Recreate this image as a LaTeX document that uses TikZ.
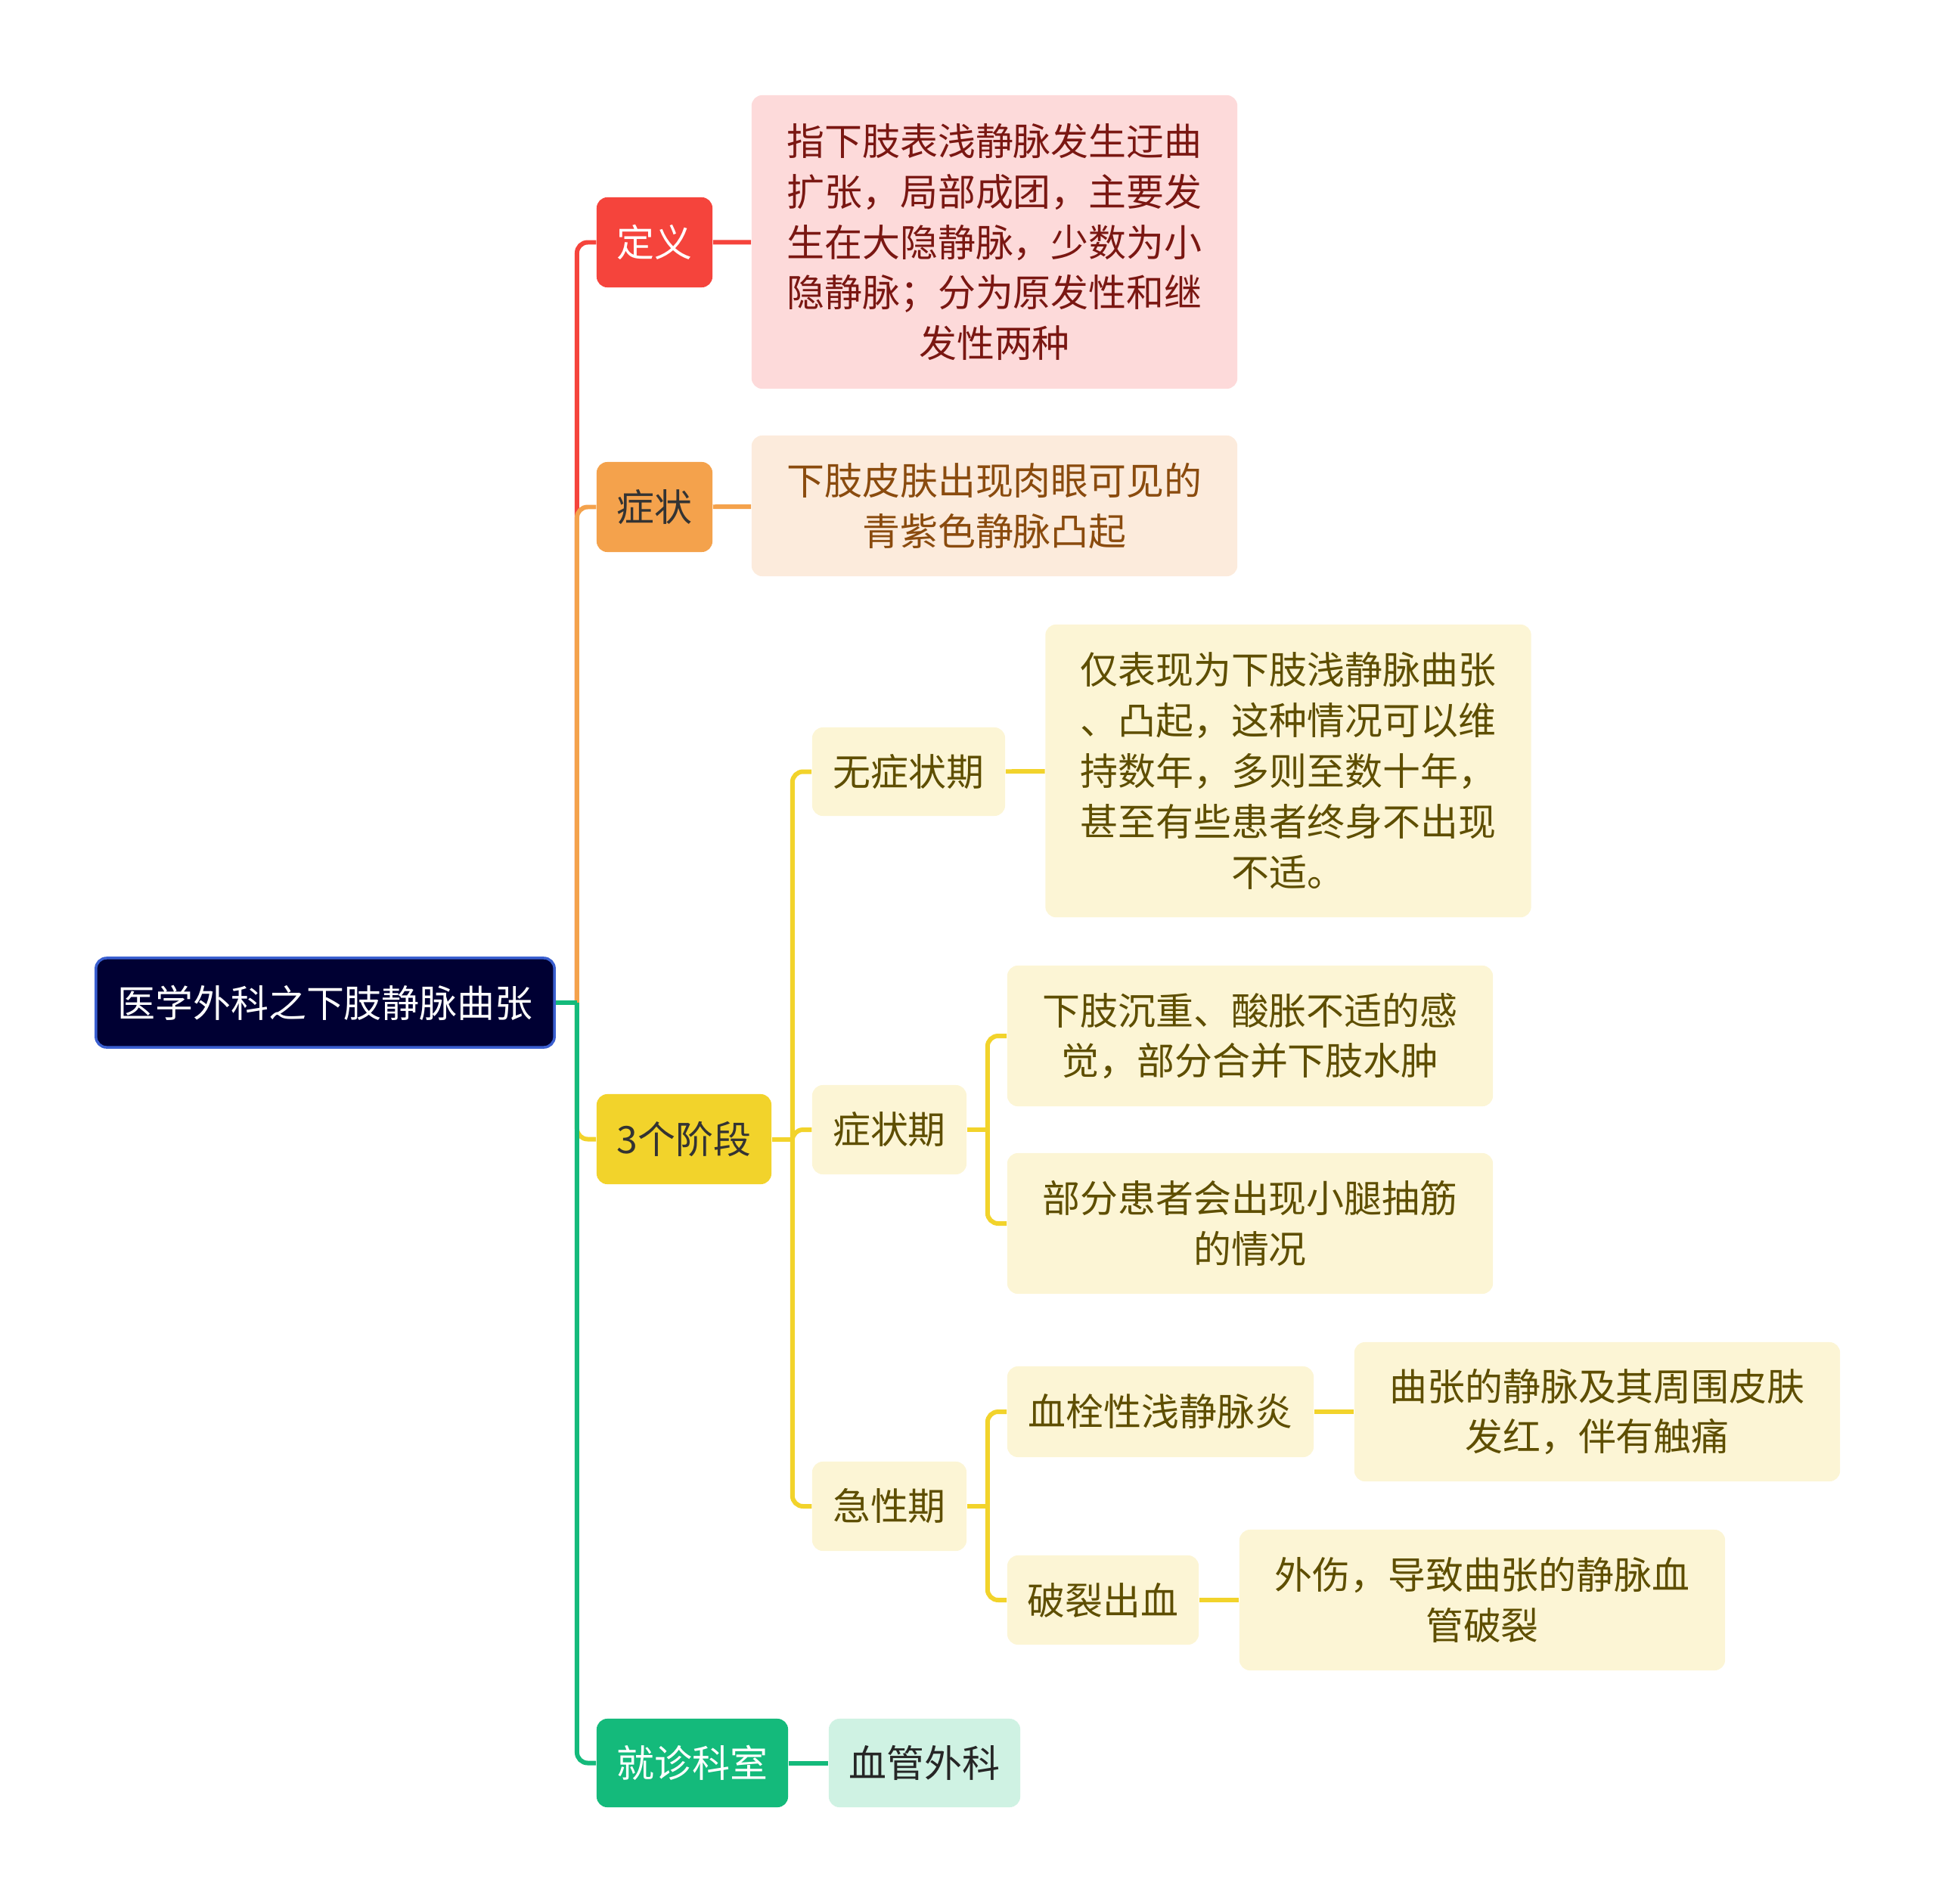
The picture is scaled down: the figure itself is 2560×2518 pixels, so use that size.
\documentclass[tikz,border=0pt]{standalone}
\usepackage{fontspec}
\newfontfamily\cjk{Noto Sans CJK SC}
\usetikzlibrary{positioning}
\definecolor{rootfill}{HTML}{000033}
\definecolor{rootline}{HTML}{3A5FD0}
\definecolor{mred}{HTML}{F5443C}
\definecolor{morange}{HTML}{F4A24C}
\definecolor{myellow}{HTML}{F2D32B}
\definecolor{mgreen}{HTML}{14BA7B}
\definecolor{lred}{HTML}{FDDADA}
\definecolor{lorange}{HTML}{FCEBDC}
\definecolor{lyellow}{HTML}{FCF5D5}
\definecolor{lgreen}{HTML}{CFF2E3}
\definecolor{tred}{HTML}{7A1712}
\definecolor{torange}{HTML}{8A4B0E}
\definecolor{tyellow}{HTML}{5E4E00}

\begin{document}
\begin{tikzpicture}[x=0.01cm,y=-0.01cm,
  every node/.style={font=\cjk\fontsize{14.2}{19}\selectfont, inner sep=0pt, rounded corners=4pt, align=center},
  topic/.style={minimum height=1.19cm},
  descbox/.style={minimum width=6.42cm},
  link/.style={line width=1.7pt},
  elbow/.style={line width=1.7pt, rounded corners=4pt}]
\useasboundingbox (0,0) rectangle (2560,2518);

% root
\node[fill=rootfill,draw=rootline,line width=1pt,text=white,minimum width=6.06cm,minimum height=1.18cm] (root) at (430,1326) {医学外科之下肢静脉曲张};

% first level
\node[topic,fill=mred,text=white,minimum width=1.53cm] (dy) at (865.5,320.5) {定义};
\node[topic,fill=morange,text=black!80,minimum width=1.53cm] (zz) at (865.5,670.5) {症状};
\node[topic,fill=myellow,text=black!80,minimum width=2.31cm] (jd) at (904.5,1506.5) {3个阶段};
\node[topic,fill=mgreen,text=white,minimum width=2.53cm,minimum height=1.17cm] (jz) at (915.5,2331.5) {就诊科室};

\node[descbox,fill=lred,text=tred,minimum height=3.88cm] (dyd) at (1315,320) {指下肢表浅静脉发生迂曲\\扩张，局部成团，主要发\\生在大隐静脉，少数为小\\隐静脉；分为原发性和继\\发性两种};
\node[descbox,fill=lorange,text=torange,minimum height=1.86cm] (zzd) at (1315,669) {下肢皮肤出现肉眼可见的\\青紫色静脉凸起};
\node[fill=lgreen,text=black!85,minimum width=2.53cm,minimum height=1.17cm] (xg) at (1222.5,2331.5) {血管外科};

% stages
\node[topic,fill=lyellow,text=tyellow,minimum width=2.55cm,minimum height=1.17cm] (s0) at (1201.5,1020.5) {无症状期};
\node[topic,fill=lyellow,text=tyellow,minimum width=2.04cm,minimum height=1.18cm] (s1) at (1176,1494) {症状期};
\node[topic,fill=lyellow,text=tyellow,minimum width=2.04cm,minimum height=1.18cm] (s2) at (1176,1992) {急性期};

\node[descbox,fill=lyellow,text=tyellow,minimum height=3.87cm] (s0d) at (1703.5,1019.5) {仅表现为下肢浅静脉曲张\\、凸起，这种情况可以维\\持数年，多则至数十年，\\甚至有些患者终身不出现\\不适。};
\node[descbox,fill=lyellow,text=tyellow,minimum height=1.86cm] (s1a) at (1653,1370) {下肢沉重、酸胀不适的感\\觉，部分合并下肢水肿};
\node[descbox,fill=lyellow,text=tyellow,minimum height=1.86cm] (s1b) at (1653,1618) {部分患者会出现小腿抽筋\\的情况};

\node[topic,fill=lyellow,text=tyellow,minimum width=4.05cm,minimum height=1.2cm] (xs) at (1534.5,1867) {血栓性浅静脉炎};
\node[topic,fill=lyellow,text=tyellow,minimum width=2.53cm,minimum height=1.18cm] (pl) at (1458.5,2116) {破裂出血};
\node[descbox,fill=lyellow,text=tyellow,minimum height=1.84cm] (xsd) at (2112,1867) {曲张的静脉及其周围皮肤\\发红，伴有触痛};
\node[descbox,fill=lyellow,text=tyellow,minimum height=1.86cm] (pld) at (1960,2116) {外伤，导致曲张的静脉血\\管破裂};

% junctions
\coordinate (rj) at ([xshift=0.28cm]root.east);
\coordinate (jdj) at ([xshift=0.27cm]jd.east);
\coordinate (s1j) at ([xshift=0.27cm]s1.east);
\coordinate (s2j) at ([xshift=0.27cm]s2.east);

% connectors
\draw[elbow,mred] (rj) |- (dy.west);
\draw[elbow,morange] (rj) |- (zz.west);
\draw[elbow,myellow] (rj) |- (jd.west);
\draw[elbow,mgreen] (rj) |- (jz.west);
\draw[link,mgreen] (root.east) -- (rj);
\draw[link,mred] (dy) -- (dyd);
\draw[link,morange] (zz) -- (zzd);
\draw[link,mgreen] (jz) -- (xg);

\draw[elbow,myellow] (jdj) |- (s0.west);
\draw[elbow,myellow] (jdj) |- (s1.west);
\draw[elbow,myellow] (jdj) |- (s2.west);
\draw[link,myellow] (jd.east) -- (jdj);
\draw[link,myellow] (s0) -- (s0d);
\draw[elbow,myellow] (s1j) |- (s1a.west);
\draw[elbow,myellow] (s1j) |- (s1b.west);
\draw[link,myellow] (s1.east) -- (s1j);
\draw[elbow,myellow] (s2j) |- (xs.west);
\draw[elbow,myellow] (s2j) |- (pl.west);
\draw[link,myellow] (s2.east) -- (s2j);
\draw[link,myellow] (xs) -- (xsd);
\draw[link,myellow] (pl) -- (pld);
\end{tikzpicture}
\end{document}
